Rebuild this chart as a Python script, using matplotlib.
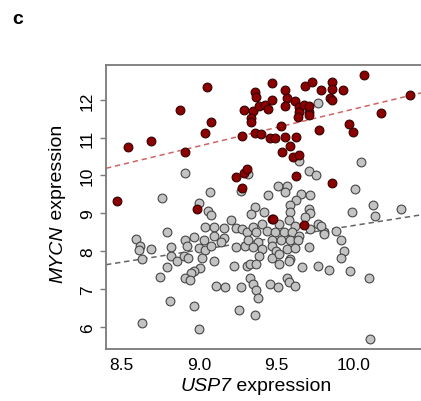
import matplotlib
matplotlib.use("Agg")
import matplotlib.pyplot as plt
import numpy as np

plt.rcParams['font.family'] = ['Liberation Sans', 'DejaVu Sans']

# Gray points (USP7, MYCN)
gray_x = [8.76, 8.79, 8.59, 8.62, 8.61, 8.69, 8.82, 8.82, 8.86, 8.63, 8.79, 8.75, 8.81, 8.63,
          9.07, 9.00, 9.06, 9.08, 9.21, 9.04, 9.10, 9.16, 9.24, 9.28, 9.31, 8.91, 8.97, 9.03,
          9.10, 9.16, 8.92, 9.00, 9.04, 9.08, 9.14, 9.24, 9.30, 8.90, 8.93, 9.02, 9.10, 9.23,
          9.31, 9.01, 8.97, 8.95, 8.91, 8.94, 9.11, 9.17, 9.27, 8.97, 9.26, 9.00, 8.91, 9.32,
          9.27, 9.51, 9.57, 9.56, 9.45, 9.66, 9.72, 9.63, 9.59, 9.36, 9.34, 9.42, 9.59, 9.71,
          9.72, 9.69, 9.35, 9.41, 9.52, 9.58, 9.62, 9.72, 9.77, 9.81, 9.37, 9.44, 9.49, 9.55,
          9.60, 9.65, 9.32, 9.38, 9.47, 9.53, 9.59, 9.64, 9.71, 9.35, 9.41, 9.47, 9.50, 9.57,
          9.62, 9.39, 9.47, 9.52, 9.59, 9.33, 9.37, 9.52, 9.58, 9.67, 9.77, 9.84, 9.33, 9.35,
          9.37, 9.38, 9.46, 9.51, 9.57, 9.58, 9.62, 9.36, 10.01, 10.13, 10.14, 9.99, 10.31,
          9.79, 9.81, 9.89, 9.92, 9.94, 9.92, 9.98, 10.10, 10.11, 9.77, 9.65, 10.05, 9.71, 9.76]
gray_y = [9.41, 8.50, 8.32, 8.14, 8.04, 8.05, 8.10, 7.86, 7.75, 7.79, 7.59, 7.32, 6.69, 6.09,
          9.57, 9.27, 9.07, 8.96, 8.82, 8.65, 8.63, 8.60, 8.61, 8.58, 8.50, 8.29, 8.36, 8.28,
          8.41, 8.34, 8.14, 8.07, 8.04, 8.14, 8.23, 8.10, 8.14, 7.88, 7.83, 7.83, 7.75, 7.60,
          7.61, 7.54, 7.48, 7.41, 7.30, 7.23, 7.08, 7.04, 7.04, 6.55, 6.45, 5.95, 10.07, 10.05,
          9.58, 9.71, 9.73, 9.57, 9.48, 9.51, 9.48, 9.36, 9.22, 9.16, 8.98, 9.03, 9.03, 9.11,
          9.00, 8.89, 8.65, 8.72, 8.72, 8.81, 8.67, 8.58, 8.72, 8.50, 8.50, 8.54, 8.50, 8.50,
          8.50, 8.41, 8.28, 8.23, 8.28, 8.28, 8.28, 8.28, 8.10, 8.10, 8.05, 8.14, 8.01, 8.05,
          8.07, 7.88, 7.83, 7.92, 7.79, 7.66, 7.66, 7.66, 7.75, 7.57, 7.60, 7.51, 7.30, 7.13,
          6.97, 6.77, 7.13, 7.06, 7.30, 7.17, 7.08, 6.31, 9.63, 9.23, 8.94, 9.04, 9.11,
          8.67, 8.45, 8.52, 8.30, 8.01, 7.81, 7.48, 7.29, 5.67, 11.91, 10.37, 10.35, 10.12, 10.01]

# Dark red points
red_x = [8.47, 8.54, 8.69, 8.88, 8.91, 8.99, 9.04, 9.05, 9.08, 9.28, 9.29, 9.24, 9.29, 9.31,
         9.28, 9.35, 9.34, 9.34, 9.36, 9.37, 9.36, 9.40, 9.39, 9.43, 9.45, 9.47, 9.47, 9.46,
         9.49, 9.53, 9.54, 9.56, 9.57, 9.56, 9.56, 9.59, 9.61, 9.62, 9.63, 9.63, 9.65, 9.65,
         9.65, 9.64, 9.68, 9.69, 9.71, 9.73, 9.71, 9.71, 9.79, 9.78, 9.86, 9.86, 9.85, 9.86,
         9.86, 9.93, 9.97, 10.00, 10.07, 10.18, 10.37, 9.68, 9.47, 9.48]
red_y = [9.32, 10.76, 10.90, 11.74, 10.62, 9.11, 11.13, 12.33, 11.41, 11.05, 11.72, 9.97, 10.07, 10.17,
         9.67, 11.71, 11.52, 11.41, 12.20, 12.07, 11.12, 11.11, 11.85, 11.87, 11.75, 12.44, 12.00, 11.00,
         10.99, 11.30, 10.62, 12.27, 12.04, 11.85, 11.03, 10.78, 10.48, 11.97, 11.01, 9.98, 10.55, 11.82,
         11.67, 11.54, 11.86, 12.36, 11.67, 12.48, 11.85, 11.61, 12.27, 11.21, 12.47, 12.28, 12.04, 12.00,
         9.81, 12.27, 11.37, 11.16, 12.66, 11.66, 12.13, 8.69, 8.84, 8.85]

# Fitted regression lines: (slope, intercept)
red_fit = (0.977, 1.985)
gray_fit = (0.646, 2.215)

x_ticks = [8.5, 9.0, 9.5, 10.0]
x_ticklabels = ["8.5", "9.0", "9.5", "10.0"]
y_ticks = [6, 7, 8, 9, 10, 11, 12]

W, H = 421, 402
fig = plt.figure(figsize=(W / 100, H / 100), dpi=100)
ax = fig.add_axes([106/W, 52/H, 319/W, 284.3/H])

ax.scatter(gray_x, gray_y, s=40, c='#c3c3c3', edgecolors='#454545', linewidths=0.8, zorder=3)
ax.scatter(red_x, red_y, s=40, c='#8b0000', edgecolors='#360000', linewidths=0.8, zorder=4)

ax.axline((0, red_fit[1]), slope=red_fit[0], color='#cf6464', lw=1.1, ls=(0, (3.5, 2.5)), zorder=2)
ax.axline((0, gray_fit[1]), slope=gray_fit[0], color='#646464', lw=1.1, ls=(0, (3.5, 2.5)), zorder=2)

ax.set_xlim(8.398, 10.464)
ax.set_ylim(5.41, 12.93)
ax.set_xticks(x_ticks)
ax.set_xticklabels(x_ticklabels)
ax.set_yticks(y_ticks)
ax.set_yticklabels([str(v) for v in y_ticks], rotation=90, va='center')

for sp in ax.spines.values():
    sp.set_color('#7a7a7a')
    sp.set_linewidth(1.3)

ax.tick_params(axis='both', labelsize=12.5, colors='#7a7a7a', labelcolor='black')
ax.tick_params(axis='x', length=0, pad=6)
ax.tick_params(axis='y', length=4, width=1, pad=4)

# Axis labels with italic gene names, built from two text pieces
renderer = fig.canvas.get_renderer()
fs = 14
# x label: centred around pixel x=256, baseline near y=391 from top
t_it = fig.text(0, 0, "USP7", fontsize=fs, style='italic', ha='left', va='baseline')
t_rm = fig.text(0, 0, " expression", fontsize=fs, ha='left', va='baseline')
w_it = t_it.get_window_extent(renderer).width
w_rm = t_rm.get_window_extent(renderer).width
x0 = 256 - (w_it + w_rm) / 2
yb = H - 391
t_it.set_position((x0 / W, yb / H))
t_rm.set_position(((x0 + w_it) / W, yb / H))

# y label: vertical, centred around pixel y=204 from top, baseline x=62
u_it = fig.text(0, 0, "MYCN", fontsize=fs, style='italic', rotation=90,
                rotation_mode='anchor', ha='left', va='baseline')
u_rm = fig.text(0, 0, " expression", fontsize=fs, rotation=90,
                rotation_mode='anchor', ha='left', va='baseline')
h_it = u_it.get_window_extent(renderer).height
h_rm = u_rm.get_window_extent(renderer).height
ycen = H - 204
y0 = ycen - (h_it + h_rm) / 2
xb = 62
u_it.set_position((xb / W, y0 / H))
u_rm.set_position((xb / W, (y0 + h_it) / H))

fig.text(12/W, 1 - 19/H, "c", fontsize=14, fontweight='bold', va='center', ha='left')

fig.savefig("out.png", dpi=100)
